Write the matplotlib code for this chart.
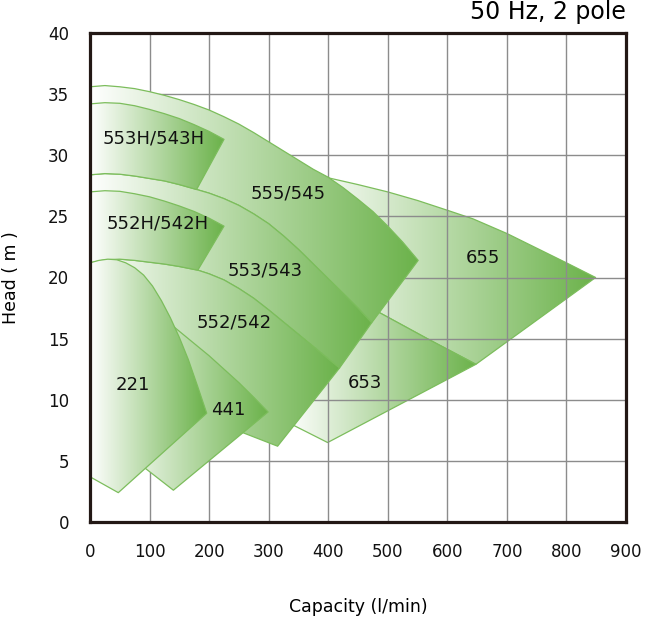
import numpy as np
import matplotlib
matplotlib.use("Agg")
import matplotlib.pyplot as plt
from matplotlib.patches import Polygon
from matplotlib.colors import LinearSegmentedColormap

# ---------------- data (capacity l/min, head m) ----------------
# 555/545 max impeller curve
q_555_top = [0, 25, 50, 75, 100, 125, 150, 175, 200, 225, 250, 275, 300, 325, 350, 375, 400, 425, 450, 475, 500, 525, 551]
h_555_top = [35.6, 35.7, 35.6, 35.45, 35.2, 34.9, 34.55, 34.15, 33.7, 33.15, 32.55, 31.85, 31.1, 30.35, 29.6, 28.85, 28.2, 27.35, 26.4, 25.4, 24.2, 22.9, 21.4]
# 553H/543H max impeller curve
q_553h_top = [0, 25, 50, 75, 100, 125, 150, 175, 200, 225]
h_553h_top = [34.2, 34.3, 34.25, 34.05, 33.75, 33.4, 33.0, 32.5, 31.95, 31.3]
# shared curve: 555 min / 553H min / 553 max
q_553_top = [0, 25, 50, 75, 100, 125, 150, 179, 200, 225, 250, 275, 300, 325, 350, 375, 400, 425, 450, 473]
h_553_top = [28.4, 28.5, 28.45, 28.3, 28.1, 27.9, 27.6, 27.2, 26.9, 26.45, 25.9, 25.2, 24.4, 23.4, 22.3, 21.1, 19.9, 18.7, 17.5, 16.3]
# 552H/542H max impeller curve
q_552h_top = [0, 25, 50, 75, 100, 125, 150, 175, 200, 225]
h_552h_top = [27.0, 27.1, 27.05, 26.85, 26.6, 26.25, 25.85, 25.4, 24.85, 24.2]
# shared curve: 552H min / 553 min / 552 max
q_552_top = [0, 25, 50, 75, 100, 125, 150, 181, 200, 225, 250, 275, 300, 325, 350, 375, 400, 419]
h_552_top = [21.2, 21.45, 21.5, 21.4, 21.25, 21.1, 20.9, 20.6, 20.3, 19.8, 19.1, 18.3, 17.35, 16.35, 15.35, 14.35, 13.35, 12.6]
# 552/542 right edge end and min curve (hidden part)
q_552_bot = [315, 257, 150, 0]
h_552_bot = [6.2, 7.3, 9.3, 12.2]
# 221
q_221_top = [0, 15, 30, 45, 60, 75, 90, 105, 120, 135, 150, 165, 180, 196]
h_221_top = [21.2, 21.4, 21.5, 21.45, 21.2, 20.8, 20.2, 19.3, 18.1, 16.7, 15.1, 13.3, 11.2, 8.9]
q_221_bot = [47.5, 0]
h_221_bot = [2.4, 3.7]
# 441
q_441_top = [40, 70, 100, 125, 150, 175, 200, 225, 250, 275, 299]
h_441_top = [19.0, 18.3, 17.4, 16.6, 15.6, 14.6, 13.6, 12.5, 11.4, 10.2, 9.0]
q_441_bot = [140, 40]
h_441_bot = [2.6, 6.4]
# 655 max curve
q_655_top = [360, 414, 450, 500, 550, 600, 643, 700, 750, 800, 849]
h_655_top = [28.6, 28.0, 27.6, 27.0, 26.3, 25.5, 24.8, 23.6, 22.4, 21.2, 20.0]
# shared curve: 655 min / 653 max
q_653_top = [330, 360, 400, 487, 570, 648]
h_653_top = [21.0, 20.3, 19.3, 17.1, 14.9, 12.9]
q_653_bot = [399, 330]
h_653_bot = [6.5, 8.2]

labels = ["553H/543H", "555/545", "552H/542H", "553/543", "552/542", "655", "653", "221", "441"]
label_q = [106, 332, 114, 294, 242, 660, 461, 72, 232]
label_h = [31.4, 26.9, 24.4, 20.6, 16.3, 21.6, 11.4, 11.2, 9.2]

x_ticks = [0, 100, 200, 300, 400, 500, 600, 700, 800, 900]
y_ticks = [0, 5, 10, 15, 20, 25, 30, 35, 40]

GREEN = "#6BB24A"
EDGE = "#7CBD5C"
cmap = LinearSegmentedColormap.from_list("wg", ["#FFFFFF", GREEN])


def sel(q, h, qmax):
    return [(a, b) for a, b in zip(q, h) if a <= qmax]


def rev(pts):
    return list(reversed(pts))


def shape(ax, pts, z):
    xs = [p[0] for p in pts]
    q0, q1 = min(xs), max(xs)
    poly = Polygon(pts, closed=True, facecolor="none", edgecolor=EDGE,
                   linewidth=0.9, zorder=z + 0.5, joinstyle="round")
    ax.add_patch(poly)
    grad = np.linspace(0, 1, 256).reshape(1, -1)
    im = ax.imshow(grad, cmap=cmap, extent=[q0, q1, 0, 40], aspect="auto",
                   origin="lower", zorder=z, interpolation="bilinear")
    clip = Polygon(pts, closed=True, transform=ax.transData)
    im.set_clip_path(clip)


fig = plt.figure(figsize=(6.5, 6.17), dpi=100)
ax = fig.add_axes([90 / 650, 1 - 522 / 617, (626 - 90) / 650, (522 - 33) / 617])

p655 = list(zip(q_655_top, h_655_top)) + rev(list(zip(q_653_top, h_653_top))[1:])
p653 = list(zip(q_653_top, h_653_top)) + list(zip(q_653_bot, h_653_bot))
p555 = list(zip(q_555_top, h_555_top)) + rev(list(zip(q_553_top, h_553_top)))
p553 = list(zip(q_553_top, h_553_top)) + rev(list(zip(q_552_top, h_552_top)))
p552 = list(zip(q_552_top, h_552_top)) + list(zip(q_552_bot, h_552_bot))
p553h = list(zip(q_553h_top, h_553h_top)) + rev(sel(q_553_top, h_553_top, 179))
p552h = list(zip(q_552h_top, h_552h_top)) + rev(sel(q_552_top, h_552_top, 181))
p441 = list(zip(q_441_top, h_441_top)) + list(zip(q_441_bot, h_441_bot))
p221 = list(zip(q_221_top, h_221_top)) + list(zip(q_221_bot, h_221_bot))

for i, p in enumerate([p655, p653, p555, p553, p552, p553h, p552h, p441, p221]):
    shape(ax, p, 1 + i)

for t, q, h in zip(labels, label_q, label_h):
    ax.text(q, h, t, ha="center", va="center", fontsize=13, color="#111111", zorder=30)

ax.set_xlim(0, 900)
ax.set_ylim(0, 40)
ax.set_xticks(x_ticks)
ax.set_yticks(y_ticks)
ax.tick_params(length=0, labelsize=12, pad=15, colors="#111111")
ax.grid(True, color="#8C8C8C", linewidth=1.0, zorder=20)
ax.set_axisbelow(False)
for g in ax.get_xgridlines() + ax.get_ygridlines():
    g.set_zorder(20)
for s in ax.spines.values():
    s.set_linewidth(2.3)
    s.set_color("#231815")
    s.set_zorder(40)

ax.set_xlabel("Capacity (l/min)", fontsize=12.5, labelpad=27)
ax.set_ylabel("Head ( m )", fontsize=12.5, labelpad=20)
fig.text(626 / 650, 1 - 12 / 617, "50 Hz, 2 pole", ha="right", va="center", fontsize=17)

fig.savefig("out.png", dpi=100)
